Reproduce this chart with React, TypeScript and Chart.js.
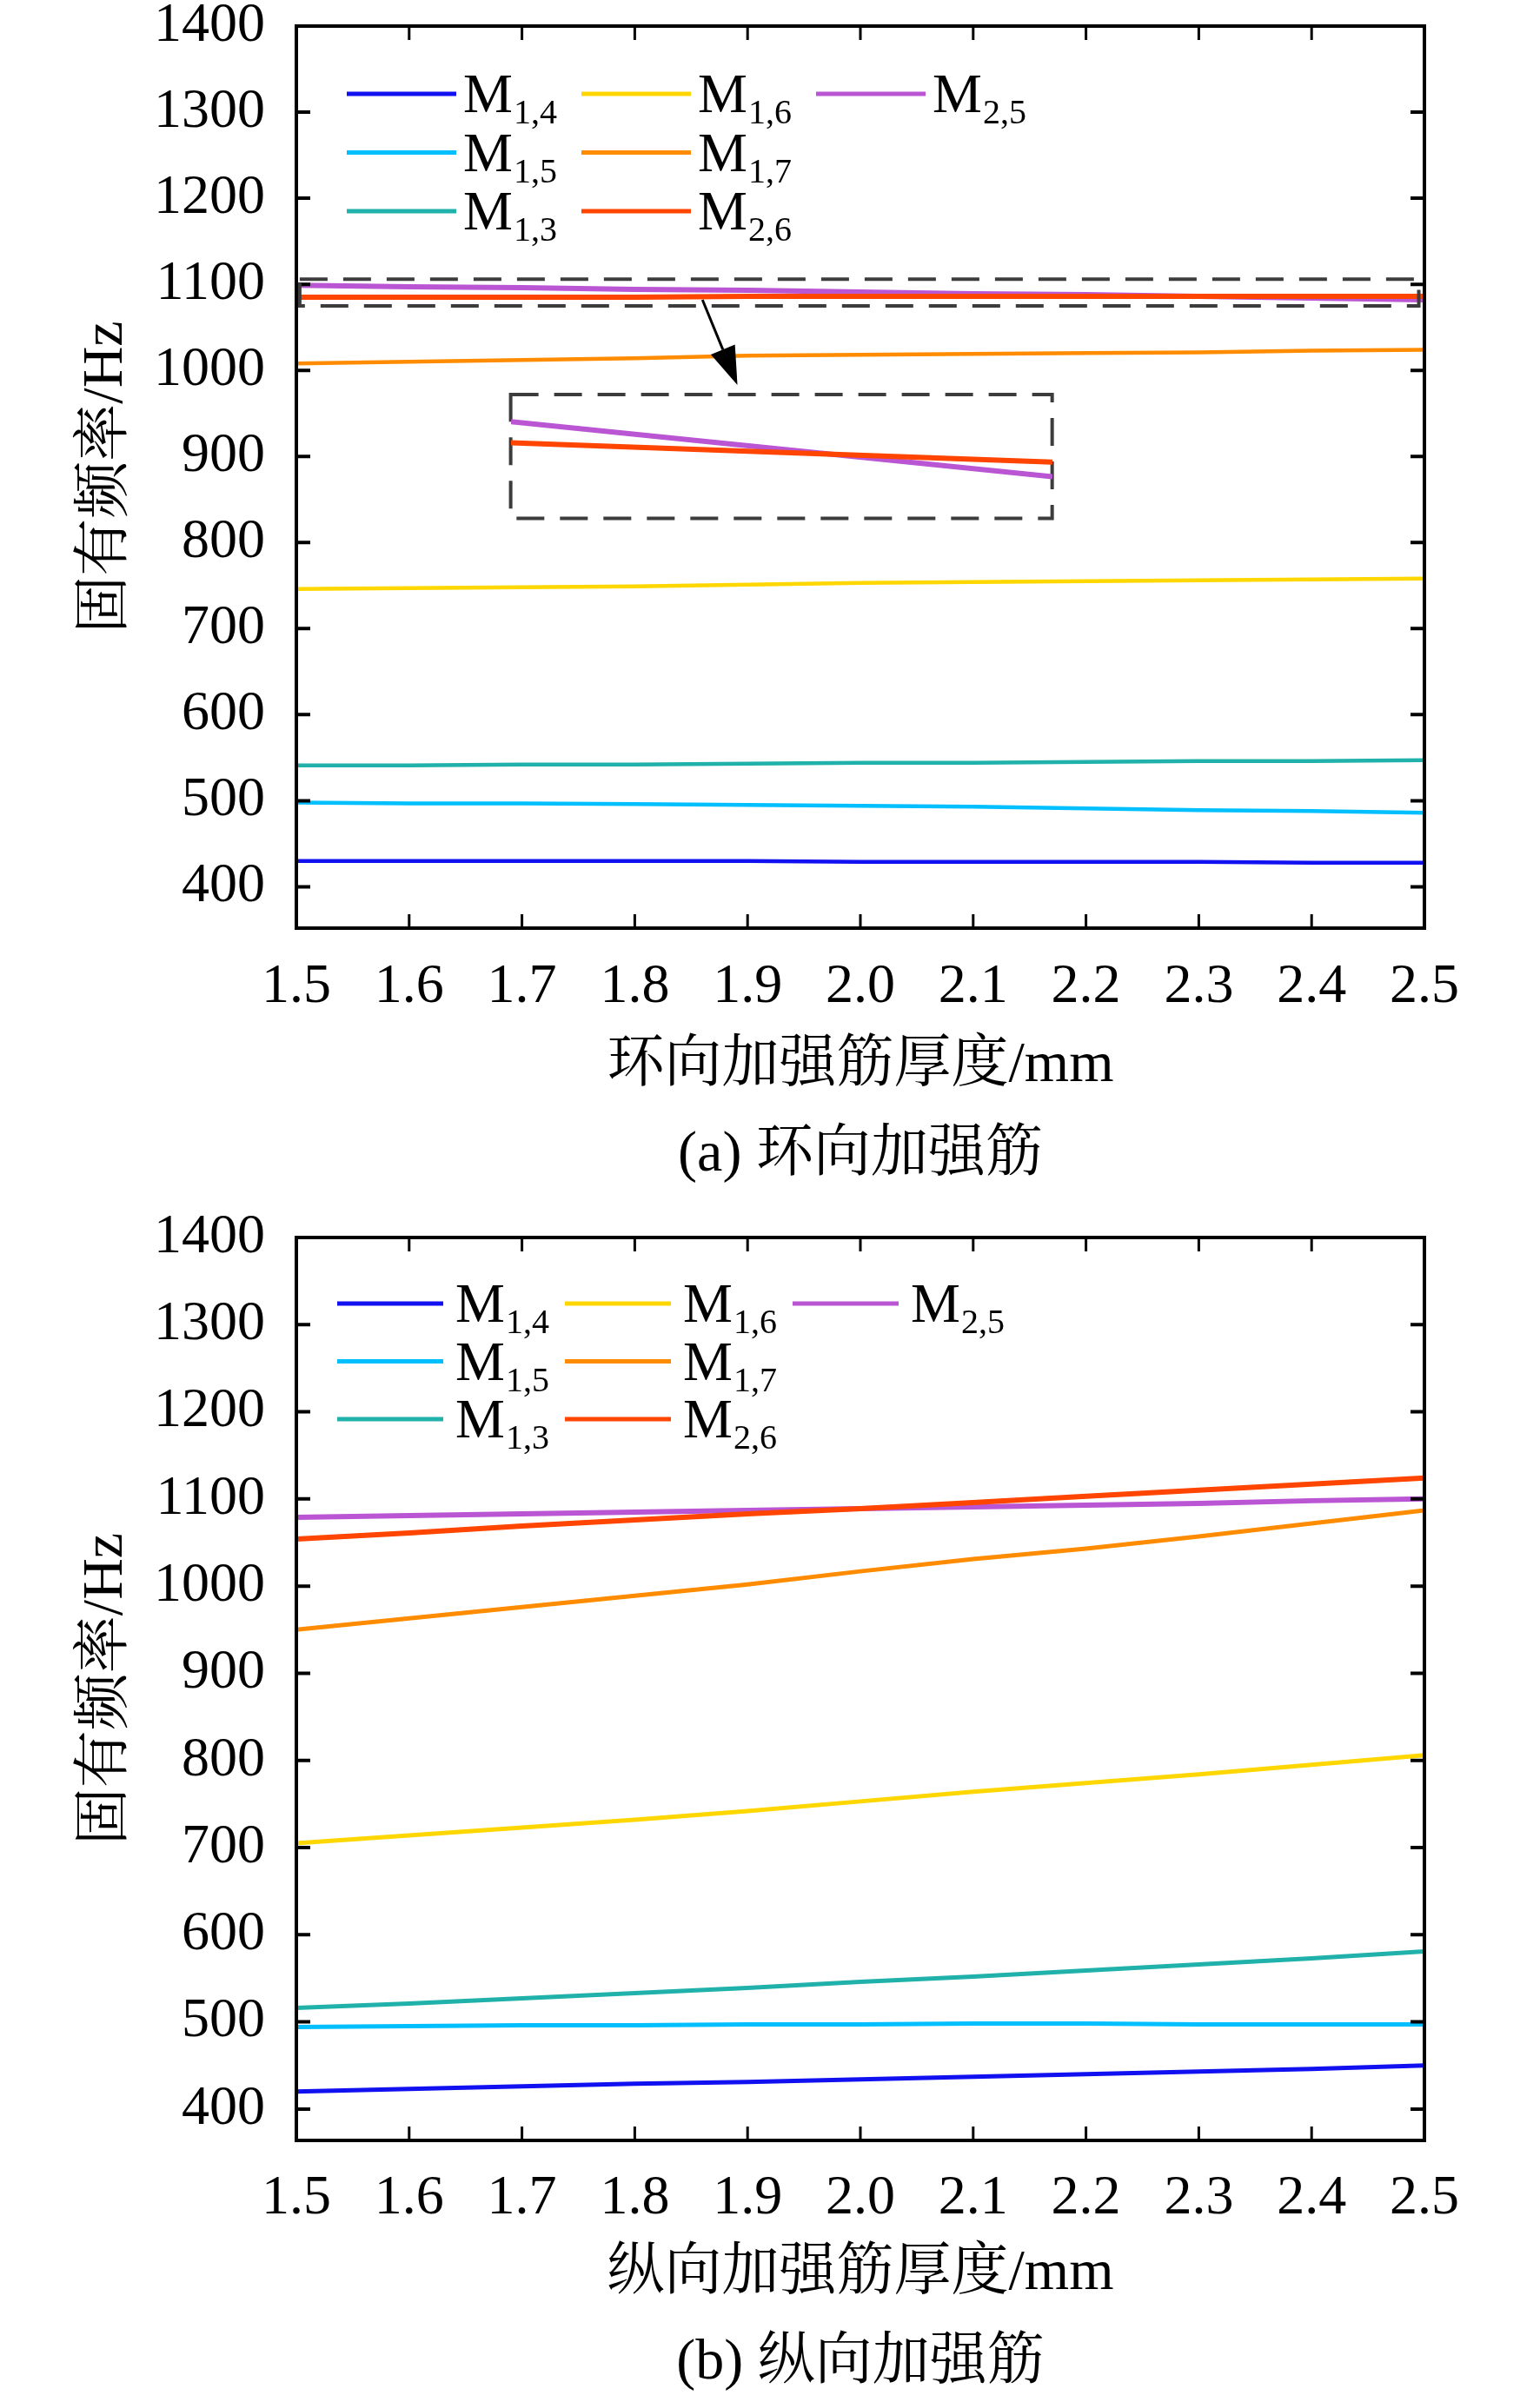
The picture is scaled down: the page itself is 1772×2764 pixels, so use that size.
import { useEffect, useRef } from "react";
import { Chart, ChartConfiguration, registerables } from "chart.js";

Chart.register(...registerables);

const FONT = "'Liberation Serif', 'Noto Serif CJK SC', 'Noto Sans CJK SC', serif";

// shared axes
const thickness = [1.5, 1.6, 1.7, 1.8, 1.9, 2.0, 2.1, 2.2, 2.3, 2.4, 2.5];
const xTicks = [1.5, 1.6, 1.7, 1.8, 1.9, 2.0, 2.1, 2.2, 2.3, 2.4, 2.5];
const yTicks = [400, 500, 600, 700, 800, 900, 1000, 1100, 1200, 1300, 1400];

// legend order: column by column
const modeSubs = ["1,4", "1,5", "1,3", "1,6", "1,7", "2,6", "2,5"];
const modeColors = ["#1010f0", "#00bfff", "#20b2aa", "#ffd700", "#ff8c00", "#ff4500", "#ba55d3"];

// (a) ring stiffener
const ringM14 = [430, 430, 430, 430, 430, 429, 429, 429, 429, 428, 428];
const ringM15 = [498, 497, 497, 496, 495, 494, 493, 491, 489, 488, 486];
const ringM13 = [541, 541, 542, 542, 543, 544, 544, 545, 546, 546, 547];
const ringM16 = [746, 747, 748, 749, 751, 753, 754, 755, 756, 757, 758];
const ringM17 = [1008, 1010, 1012, 1014, 1017, 1018, 1019, 1020, 1021, 1023, 1024];
const ringM26 = [1085, 1085, 1085, 1085, 1086, 1086, 1086, 1086, 1086, 1086, 1086];
const ringM25 = [1099, 1097, 1096, 1094, 1093, 1091, 1089, 1088, 1086, 1084, 1082];

// (a) magnified inset, as drawn in the inset window
const insetX = [1.5, 2.5];
const insetM26 = [1092.5, 1086.5];
const insetM25 = [1099, 1082];

// (b) longitudinal stiffener
const longM14 = [420, 423, 426, 429, 431, 434, 437, 440, 443, 446, 450];
const longM15 = [494, 495, 496, 496, 497, 497, 498, 498, 497, 497, 497];
const longM13 = [516, 521, 527, 533, 539, 546, 552, 559, 566, 573, 581];
const longM16 = [705, 714, 723, 732, 742, 753, 764, 774, 784, 795, 806];
const longM17 = [950, 963, 976, 989, 1002, 1017, 1031, 1043, 1057, 1072, 1087];
const longM26 = [1054, 1061, 1069, 1076, 1083, 1089, 1096, 1103, 1110, 1117, 1124];
const longM25 = [1079, 1081, 1083, 1085, 1087, 1089, 1091, 1093, 1095, 1098, 1100];

// annotation placement in data units of panel (a)
const zoomWindow = { x0: 1.503, x1: 2.495, y0: 1075, y1: 1106 };
const insetWindow = { x0: 1.69, x1: 2.17, y0: 828, y1: 972 };
const insetRange = { min: 1069, max: 1107.4 };
const arrowFrom = { x: 1.86, y: 1082 };
const arrowTo = { x: 1.891, y: 983 };

const W = 1772;
const H = 1382;

type LegendLayout = { dx: number; dy: number; colGap: number; rowGap: number; lineLen: number; textGap: number };

const toPoints = (xs: number[], vals: number[]) => vals.map((v, i) => ({ x: xs[i], y: v }));

function decorPlugin(legend: LegendLayout, extra?: (chart: Chart) => void) {
  return {
    id: "decor",
    afterDraw(chart: Chart) {
      const { ctx, chartArea: a } = chart;
      const x = chart.scales.x;
      const y = chart.scales.y;
      ctx.save();
      ctx.strokeStyle = "#000";
      ctx.lineWidth = 3;
      for (const t of x.ticks) {
        const px = x.getPixelForValue(t.value);
        ctx.beginPath();
        ctx.moveTo(px, a.bottom);
        ctx.lineTo(px, a.bottom - 16);
        ctx.moveTo(px, a.top);
        ctx.lineTo(px, a.top + 16);
        ctx.stroke();
      }
      ctx.lineWidth = 4;
      for (const t of y.ticks) {
        const py = y.getPixelForValue(t.value);
        ctx.beginPath();
        ctx.moveTo(a.left, py);
        ctx.lineTo(a.left + 16, py);
        ctx.moveTo(a.right, py);
        ctx.lineTo(a.right - 16, py);
        ctx.stroke();
      }
      ctx.strokeRect(a.left, a.top, a.right - a.left, a.bottom - a.top);

      // legend with subscripts
      chart.data.datasets.forEach((ds, i) => {
        const col = Math.floor(i / 3);
        const row = i % 3;
        const lx = a.left + legend.dx + col * legend.colGap;
        const ly = a.top + legend.dy + row * legend.rowGap;
        ctx.strokeStyle = ds.borderColor as string;
        ctx.lineWidth = 5;
        ctx.beginPath();
        ctx.moveTo(lx, ly);
        ctx.lineTo(lx + legend.lineLen, ly);
        ctx.stroke();
        const tx = lx + legend.lineLen + legend.textGap;
        ctx.fillStyle = "#000";
        ctx.textAlign = "left";
        ctx.textBaseline = "alphabetic";
        ctx.font = `64px ${FONT}`;
        ctx.fillText("M", tx, ly + 21);
        const mw = ctx.measureText("M").width;
        ctx.font = `40px ${FONT}`;
        ctx.fillText(modeSubs[i], tx + mw + 1, ly + 34);
      });

      if (extra) extra(chart);
      ctx.restore();
    },
  };
}

function drawZoomMarks(chart: Chart) {
  const { ctx } = chart;
  const x = chart.scales.x;
  const y = chart.scales.y;
  const rect = (b: { x0: number; x1: number; y0: number; y1: number }) => {
    const l = x.getPixelForValue(b.x0);
    const r = x.getPixelForValue(b.x1);
    const t = y.getPixelForValue(b.y1);
    const btm = y.getPixelForValue(b.y0);
    ctx.strokeRect(l, t, r - l, btm - t);
  };
  ctx.save();
  ctx.strokeStyle = "#3c3c3c";
  ctx.lineWidth = 4;
  ctx.setLineDash([32, 18]);
  rect(zoomWindow);
  rect(insetWindow);
  ctx.setLineDash([]);

  const sx = x.getPixelForValue(arrowFrom.x);
  const sy = y.getPixelForValue(arrowFrom.y);
  const ex = x.getPixelForValue(arrowTo.x);
  const ey = y.getPixelForValue(arrowTo.y);
  const len = Math.hypot(ex - sx, ey - sy);
  const ux = (ex - sx) / len;
  const uy = (ey - sy) / len;
  const head = 44;
  const half = 15;
  const bx = ex - ux * head;
  const by = ey - uy * head;
  ctx.strokeStyle = "#000";
  ctx.fillStyle = "#000";
  ctx.lineWidth = 3;
  ctx.beginPath();
  ctx.moveTo(sx, sy);
  ctx.lineTo(bx, by);
  ctx.stroke();
  ctx.beginPath();
  ctx.moveTo(ex, ey);
  ctx.lineTo(bx - uy * half, by + ux * half);
  ctx.lineTo(bx + uy * half, by - ux * half);
  ctx.closePath();
  ctx.fill();
  ctx.restore();
}

type PanelSpec = {
  series: number[][];
  widths: number[];
  yMin: number;
  padTop: number;
  xAxisHeight: number;
  tickPad: number;
  captionPad: number;
  xTitle: string;
  caption: string;
  legend: LegendLayout;
  extra?: (chart: Chart) => void;
};

function buildConfig(p: PanelSpec): ChartConfiguration<"line"> {
  return {
    type: "line",
    data: {
      datasets: p.series.map((vals, i) => ({
        label: "M" + modeSubs[i],
        data: toPoints(thickness, vals),
        borderColor: modeColors[i],
        backgroundColor: modeColors[i],
        borderWidth: p.widths[i],
        pointRadius: 0,
        tension: 0,
        fill: false,
      })),
    },
    options: {
      responsive: false,
      animation: false,
      devicePixelRatio: 1,
      events: [],
      layout: { padding: { top: p.padTop, right: W - 1639, left: 0, bottom: 0 } },
      plugins: {
        legend: { display: false },
        tooltip: { enabled: false },
        title: {
          display: true,
          text: p.caption,
          position: "bottom",
          fullSize: false,
          color: "#000",
          font: { family: FONT, size: 66, weight: "normal", lineHeight: 1 },
          padding: { top: 0, bottom: p.captionPad },
        },
      },
      scales: {
        x: {
          type: "linear",
          min: 1.5,
          max: 2.5,
          grid: { display: false },
          border: { display: false },
          afterBuildTicks: (s) => {
            s.ticks = xTicks.map((v) => ({ value: v }));
          },
          afterFit: (s) => {
            s.height = p.xAxisHeight;
            s.paddingLeft = 0;
            s.paddingRight = 0;
          },
          ticks: {
            color: "#000",
            padding: p.tickPad,
            maxRotation: 0,
            autoSkip: false,
            font: { family: FONT, size: 64, lineHeight: 1 },
            callback: (v) => Number(v).toFixed(1),
          },
          title: {
            display: true,
            text: p.xTitle,
            color: "#000",
            font: { family: FONT, size: 66, lineHeight: 1 },
            padding: { top: 0, bottom: 37 },
          },
        },
        y: {
          type: "linear",
          min: p.yMin,
          max: 1400,
          grid: { display: false },
          border: { display: false },
          afterBuildTicks: (s) => {
            s.ticks = yTicks.map((v) => ({ value: v }));
          },
          afterFit: (s) => {
            s.width = 341;
            s.paddingTop = 0;
            s.paddingBottom = 0;
          },
          ticks: {
            color: "#000",
            padding: 28,
            autoSkip: false,
            font: { family: FONT, size: 64, lineHeight: 0.9 },
            callback: (v) => String(v),
          },
          title: {
            display: true,
            text: "固有频率/Hz",
            color: "#000",
            font: { family: FONT, size: 66, lineHeight: 1 },
            padding: { top: 90, bottom: 0 },
          },
        },
      },
    },
    plugins: [decorPlugin(p.legend, p.extra)],
  };
}

export default function App() {
  const aRef = useRef<HTMLCanvasElement>(null);
  const bRef = useRef<HTMLCanvasElement>(null);
  const insetBoxRef = useRef<HTMLDivElement>(null);
  const insetRef = useRef<HTMLCanvasElement>(null);

  useEffect(() => {
    if (!aRef.current || !bRef.current || !insetRef.current || !insetBoxRef.current) return;

    const chartA = new Chart(
      aRef.current,
      buildConfig({
        series: [ringM14, ringM15, ringM13, ringM16, ringM17, ringM26, ringM25],
        widths: [4.5, 4.5, 4.5, 4.5, 4.5, 6, 6],
        yMin: 352,
        padTop: 30,
        xAxisHeight: 229,
        tickPad: 28,
        captionPad: 19,
        xTitle: "环向加强筋厚度/mm",
        caption: "(a) 环向加强筋",
        legend: { dx: 58, dy: 78, colGap: 270, rowGap: 67.5, lineLen: 126, textGap: 8 },
        extra: drawZoomMarks,
      })
    );

    const chartB = new Chart(
      bRef.current,
      buildConfig({
        series: [longM14, longM15, longM13, longM16, longM17, longM26, longM25],
        widths: [5, 5, 5, 5, 5, 6, 6],
        yMin: 364,
        padTop: 42,
        xAxisHeight: 224,
        tickPad: 27,
        captionPad: 11,
        xTitle: "纵向加强筋厚度/mm",
        caption: "(b) 纵向加强筋",
        legend: { dx: 47, dy: 76, colGap: 262, rowGap: 66.5, lineLen: 122, textGap: 14 },
      })
    );

    // magnified view of M2,5 / M2,6, placed in the inset window of panel (a)
    const sx = chartA.scales.x;
    const sy = chartA.scales.y;
    const left = sx.getPixelForValue(insetWindow.x0);
    const right = sx.getPixelForValue(insetWindow.x1);
    const top = sy.getPixelForValue(insetWindow.y1);
    const bottom = sy.getPixelForValue(insetWindow.y0);
    const box = insetBoxRef.current;
    box.style.left = `${left}px`;
    box.style.top = `${top}px`;
    box.style.width = `${right - left}px`;
    box.style.height = `${bottom - top}px`;
    insetRef.current.width = Math.round(right - left);
    insetRef.current.height = Math.round(bottom - top);

    const inset = new Chart(insetRef.current, {
      type: "line",
      data: {
        datasets: [
          { data: toPoints(insetX, insetM26), borderColor: modeColors[5], borderWidth: 6, pointRadius: 0, tension: 0 },
          { data: toPoints(insetX, insetM25), borderColor: modeColors[6], borderWidth: 6, pointRadius: 0, tension: 0 },
        ],
      },
      options: {
        responsive: false,
        animation: false,
        devicePixelRatio: 1,
        events: [],
        layout: { padding: 0 },
        plugins: { legend: { display: false }, tooltip: { enabled: false } },
        scales: {
          x: { type: "linear", min: 1.5, max: 2.5, display: false },
          y: { type: "linear", min: insetRange.min, max: insetRange.max, display: false },
        },
      },
    });

    return () => {
      inset.destroy();
      chartA.destroy();
      chartB.destroy();
    };
  }, []);

  return (
    <div style={{ position: "absolute", left: 0, top: 0, width: W, height: 2 * H, background: "#fff" }}>
      <div style={{ position: "absolute", left: 0, top: 0, width: W, height: H }}>
        <canvas ref={aRef} width={W} height={H} />
      </div>
      <div ref={insetBoxRef} style={{ position: "absolute" }}>
        <canvas ref={insetRef} />
      </div>
      <div style={{ position: "absolute", left: 0, top: H, width: W, height: H }}>
        <canvas ref={bRef} width={W} height={H} />
      </div>
    </div>
  );
}
